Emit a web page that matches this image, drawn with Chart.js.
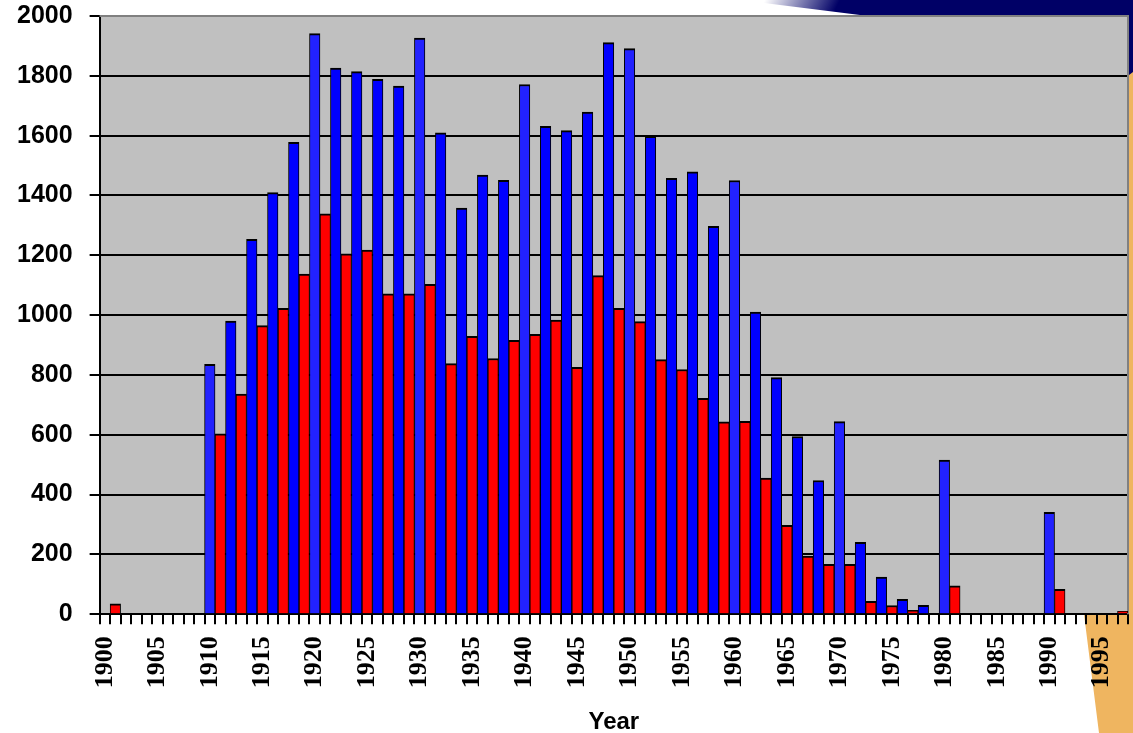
<!DOCTYPE html>
<html>
<head>
<meta charset="utf-8">
<script src="https://cdn.jsdelivr.net/npm/chart.js@4"></script>
<style>
  html, body { margin: 0; padding: 0; background: #fff; }
  #wrap { position: relative; width: 1133px; height: 733px; }
</style>
</head>
<body>
<div id="wrap"><canvas id="grafico"></canvas></div>
<script>
// one category per year, labels shown every 5 years
const firstYear = 1900;
const lastYear = 1997;
const years = [];
for (let y = firstYear; y <= lastYear; y++) years.push(y);

// blue series (even years)
const blueYears = [1910, 1912, 1914, 1916, 1918, 1920, 1922, 1924, 1926, 1928,
  1930, 1932, 1934, 1936, 1938, 1940, 1942, 1944, 1946, 1948,
  1950, 1952, 1954, 1956, 1958, 1960, 1962, 1964, 1966, 1968,
  1970, 1972, 1974, 1976, 1978, 1980, 1990];
const blueValues = [835, 980, 1253, 1410, 1578, 1941, 1826, 1814, 1788, 1766,
  1926, 1609, 1358, 1468, 1451, 1771, 1631, 1617, 1679, 1911,
  1891, 1598, 1457, 1479, 1297, 1450, 1010, 791, 594, 447,
  644, 240, 124, 50, 30, 515, 341];

// red series (odd years)
const redYears = [1901, 1911, 1913, 1915, 1917, 1919, 1921, 1923, 1925, 1927,
  1929, 1931, 1933, 1935, 1937, 1939, 1941, 1943, 1945, 1947,
  1949, 1951, 1953, 1955, 1957, 1959, 1961, 1963, 1965, 1967,
  1969, 1971, 1973, 1975, 1977, 1981, 1991, 1997];
const redValues = [35, 603, 736, 965, 1023, 1137, 1339, 1205, 1217, 1071,
  1071, 1103, 838, 929, 855, 916, 936, 983, 825, 1132,
  1023, 978, 851, 818, 722, 643, 645, 455, 297, 194,
  167, 167, 43, 29, 13, 95, 83, 10];

const yTicks = [0, 200, 400, 600, 800, 1000, 1200, 1400, 1600, 1800, 2000];

function toSeries(ys, vals) {
  const out = years.map(() => null);
  ys.forEach((y, i) => { out[years.indexOf(y)] = vals[i]; });
  return out;
}

// slide background swooshes + grey plot area
const backdrop = {
  id: "backdrop",
  beforeDraw(chart) {
    const c = chart.ctx;
    const a = chart.chartArea;
    c.save();
    // navy swoosh, top right
    const g = c.createLinearGradient(770, -10, 830, 20);
    g.addColorStop(0, "rgba(0,0,102,0)");
    g.addColorStop(1, "rgba(0,0,102,1)");
    c.fillStyle = g;
    c.beginPath();
    c.moveTo(740, 0);
    c.lineTo(1133, 0);
    c.lineTo(1133, 80);
    c.lineTo(1120, 80);
    c.lineTo(1120, 20);
    c.lineTo(900, 20);
    c.closePath();
    c.fill();
    // orange swoosh, right and bottom right
    c.fillStyle = "#efb560";
    c.beginPath();
    c.moveTo(1125, 78);
    c.lineTo(1133, 72);
    c.lineTo(1133, 733);
    c.lineTo(1099, 733);
    c.lineTo(1084, a.bottom);
    c.lineTo(1125, a.bottom);
    c.closePath();
    c.fill();
    // plot area
    c.fillStyle = "#c0c0c0";
    c.fillRect(a.left, a.top, a.right - a.left, a.bottom - a.top);
    c.restore();
  },
  beforeDatasetsDraw(chart) {
    const c = chart.ctx;
    const a = chart.chartArea;
    c.save();
    c.strokeStyle = "#808080";
    c.lineWidth = 2;
    c.beginPath();
    c.moveTo(a.left, a.top);
    c.lineTo(a.right, a.top);
    c.lineTo(a.right, a.bottom);
    c.stroke();
    c.restore();
  }
};

const barBorder = { top: 2, left: 1, right: 1, bottom: 0 };

new Chart(document.getElementById("grafico"), {
  type: "bar",
  data: {
    labels: years,
    datasets: [{
      data: toSeries(blueYears, blueValues),
      backgroundColor: (ctx) => years[ctx.dataIndex] % 10 === 0 ? "#2222ff" : "#0000ff",
      borderColor: "#000",
      borderWidth: barBorder,
      borderSkipped: "bottom",
      barPercentage: 1,
      categoryPercentage: 1
    }, {
      data: toSeries(redYears, redValues),
      backgroundColor: "#ff0000",
      borderColor: "#000",
      borderWidth: barBorder,
      borderSkipped: "bottom",
      barPercentage: 1,
      categoryPercentage: 1
    }]
  },
  options: {
    responsive: true,
    maintainAspectRatio: false,
    animation: false,
    layout: { padding: { left: 0, right: 5, top: 16, bottom: -4 } },
    plugins: {
      legend: { display: false },
      tooltip: { enabled: false }
    },
    scales: {
      x: {
        stacked: true,
        z: 1,
        offset: true,
        afterFit: (axis) => { axis.paddingLeft = 0; axis.paddingRight = 0; },
        border: { color: "#000", width: 2 },
        grid: {
          offset: true,
          drawOnChartArea: false,
          color: "#000",
          lineWidth: 2,
          tickLength: 10
        },
        ticks: {
          autoSkip: false,
          minRotation: 90,
          maxRotation: 90,
          padding: 12,
          color: "#000",
          font: { family: "'Liberation Serif', 'Times New Roman', serif", size: 26, weight: "bold" },
          callback: (v, i) => years[i] % 5 === 0 ? String(years[i]) : ""
        },
        title: {
          display: true,
          text: "Year",
          color: "#000",
          padding: { top: 8, bottom: 0 },
          font: { family: "'Liberation Sans', Arial, sans-serif", size: 24, weight: "bold" }
        }
      },
      y: {
        min: 0,
        max: 2000,
        afterBuildTicks: (axis) => { axis.ticks = yTicks.map((v) => ({ value: v })); },
        afterFit: (axis) => { axis.paddingTop = 0; axis.paddingBottom = 0; },
        border: { color: "#000", width: 2 },
        grid: {
          color: (ctx) => ctx.tick && ctx.tick.value === 2000 ? "#808080" : "#000",
          lineWidth: 2,
          tickLength: 10,
          tickColor: "#000"
        },
        ticks: {
          padding: 17,
          color: "#000",
          font: { family: "'Liberation Sans', Arial, sans-serif", size: 25, weight: "bold" },
          callback: (v) => String(v)
        }
      }
    }
  },
  plugins: [backdrop]
});
</script>
</body>
</html>
